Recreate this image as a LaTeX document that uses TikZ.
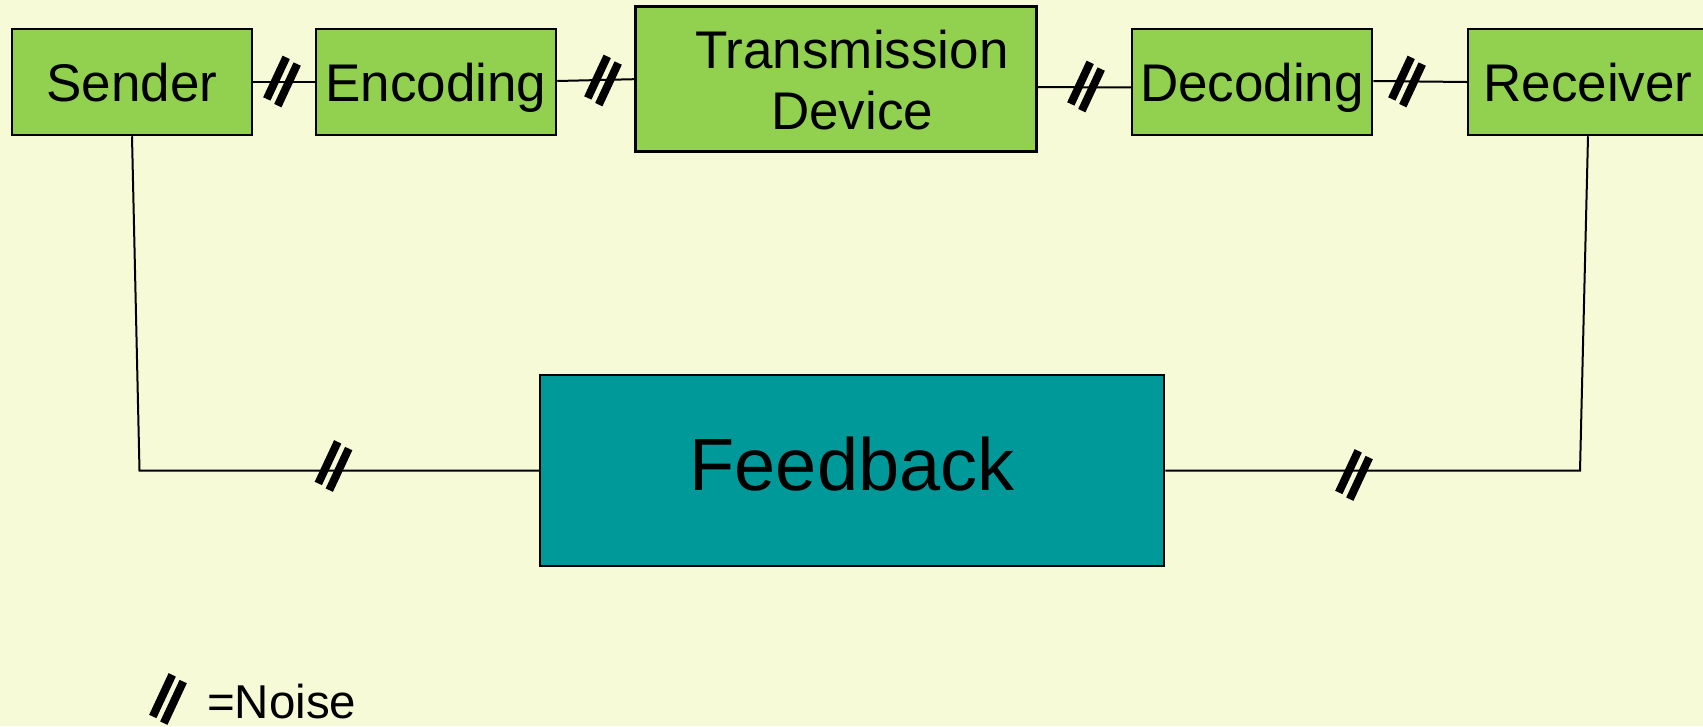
\documentclass[tikz,border=0pt]{standalone}
\usepackage{fontspec}
\setmainfont{Liberation Sans}
\usetikzlibrary{calc}
\definecolor{bgyellow}{HTML}{F7FAD6}
\definecolor{boxgreen}{HTML}{92D050}
\definecolor{fbteal}{HTML}{009999}
\tikzset{
  stagebox/.style={draw=black, line width=2.5pt, fill=boxgreen, minimum width=240pt,
    minimum height=106pt, inner sep=0pt, font=\fontsize{53}{61}\selectfont,
    text height=38pt, text depth=0pt},
  conn/.style={draw=black, line width=2pt},
  noisemark/.pic={
    \draw[line width=8pt, line cap=butt] (-15.2,17.45) -- (4.2,-24.15);
    \draw[line width=8pt, line cap=butt] (-4.2,24.15) -- (15.2,-17.45);
  }
}
\begin{document}
\begin{tikzpicture}[x=1pt,y=-1pt]
\useasboundingbox (0,0) rectangle (1703,726);
\clip (0,0) rectangle (1703,726);
\fill[bgyellow] (0,0) rectangle (1703,726);

\node[stagebox] (sender) at (132,82) {Sender};
\node[stagebox] (encoding) at (436,82) {Encoding};
\node[stagebox, minimum width=401pt, minimum height=145pt] (trans) at (835.8,79.2) {};
\node[font=\fontsize{53}{61}\selectfont, align=center, inner sep=0pt] (transtext) at (852,80) {Transmission\\Device};
\node[stagebox] (decoding) at (1252,82) {Decoding};
\node[stagebox] (receiver) at (1588,82) {Receiver};

\node[draw=black, line width=2.5pt, fill=fbteal, minimum width=624pt, minimum height=191pt,
  inner sep=0pt, font=\fontsize{74}{80}\selectfont, text height=53pt, text depth=12pt]
  (feedback) at (852,470.3) {Feedback};

\coordinate (cl) at (139.5,470.7);
\coordinate (cr) at (1580,470.7);

\draw[conn] (sender.east) -- (encoding.west);
\draw[conn] ($(encoding.east)+(0,-1)$) -- ($(trans.west)+(0,0)$);
\draw[conn] ($(trans.east)+(0,8)$) -- ($(decoding.west)+(0,5.3)$);
\draw[conn] ($(decoding.east)+(0,-1)$) -- (receiver.west);
\draw[conn] (sender.south) -- (cl) -- (feedback.west |- cl);
\draw[conn] (receiver.south) -- (cr) -- (feedback.east |- cr);

\pic at (282,81.5) {noisemark};
\pic at (603,80.5) {noisemark};
\pic at (1086,86.5) {noisemark};
\pic at (1407,81.5) {noisemark};
\pic at (333.5,466) {noisemark};
\pic at (1354,475) {noisemark};
\pic at (168,699) {noisemark};

\node[font=\fontsize{47.5}{52}\selectfont, anchor=base west, inner sep=0pt] (legend) at (207,718) {=Noise};
\end{tikzpicture}
\end{document}
